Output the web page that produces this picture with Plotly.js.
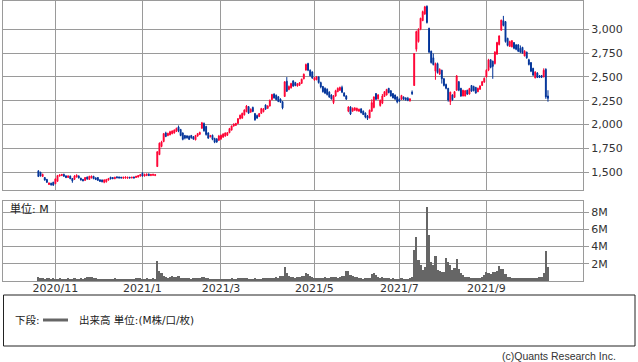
<!DOCTYPE html>
<html>
<head>
<meta charset="utf-8">
<script src="https://cdn.plot.ly/plotly-3.0.1.min.js"></script>
<style>html,body{margin:0;padding:0;background:#fff;}#chart{width:638px;height:362px;}</style>
</head>
<body>
<div id="chart"></div>
<script>
// ---- data (daily candles, first trading day 2020-10-21) ----
const startDate = '2020-10-21';
const holidays = ['2020-11-03','2020-11-23','2020-12-31','2021-01-01','2021-01-11','2021-02-11','2021-02-23',
  '2021-04-29','2021-05-03','2021-05-04','2021-05-05','2021-07-22','2021-07-23','2021-08-09','2021-09-20','2021-09-23'];

const open = [1515,1500,1455,1445,1425,1372,1385,1395,
1380,1405,1460,1465,1478,1462,1445,1460,1435,1425,1450,1462,1438,1425,1415,1450,1425,1440,1458,1440,1445,1420,1418,1395,1400,1418,1448,1445,1432,1452,1450,1448,1438,1440,1438,1448,1440,1450,1445,1450,1460,1490,1460,1465,1480,1465,1468,1465,
1560,1685,1770,1822,1912,1885,1892,1905,1912,1928,1975,1948,1912,1885,1880,1878,1885,1872,1840,1880,1898,1962,2012,1980,1912,1872,1888,1855,1850,1835,1850,1868,1880,1888,1915,1942,1985,1992,2012,2062,2068,2102,2135,2188,2130,2180,2115,2095,2085,2118,2135,2205,2170,2195,2262,2320,2308,2292,2268,2240,
2295,2455,2368,2385,2458,2440,2405,2412,2432,2480,2572,2640,2570,2552,2468,2470,2500,2440,2400,2380,2370,2340,2310,2230,2300,2345,2360,2390,2330,2300,
2140,2185,2140,2150,2145,2140,2165,2140,2120,2090,2070,2140,2180,2325,2270,2200,2225,2295,2310,2380,2355,2325,2310,2290,2265,2265,2290,2280,2275,2250,2340,
2410,2790,2870,3000,3090,3160,3240,3010,2770,2700,2560,2640,2530,2570,2480,2420,2380,2240,2310,2285,2360,2450,2380,2300,2300,2360,2320,2410,2400,2390,2345,2370,2410,2445,2500,
2570,2680,2665,2640,2740,2840,2990,3090,3080,2905,2820,2815,2860,2835,2835,2800,2810,2720,2760,2680,2650,2590,2490,2540,2510,2515,2500,2580,2300];

const high = [1520,1505,1485,1450,1430,1392,1390,1400,
1435,1472,1478,1482,1485,1468,1468,1465,1440,1470,1478,1466,1442,1430,1450,1455,1462,1465,1462,1448,1450,1428,1425,1425,1430,1440,1452,1450,1452,1456,1455,1452,1452,1455,1452,1452,1452,1455,1462,1470,1482,1500,1485,1488,1488,1482,1484,1480,
1720,1812,1830,1912,1925,1915,1935,1940,1950,1968,1990,1955,1918,1892,1890,1885,1892,1880,1892,1912,1925,2028,2022,1988,1920,1892,1895,1862,1858,1892,1895,1910,1918,1922,1965,1990,2012,2018,2068,2105,2125,2160,2205,2195,2170,2188,2122,2105,2122,2175,2172,2212,2202,2262,2322,2328,2315,2298,2275,2245,
2455,2498,2410,2438,2465,2448,2435,2445,2482,2535,2640,2648,2578,2558,2498,2510,2505,2450,2405,2390,2380,2350,2318,2310,2365,2390,2398,2408,2340,2308,
2192,2192,2180,2182,2178,2168,2170,2148,2128,2100,2158,2265,2295,2330,2320,2262,2321,2350,2375,2385,2360,2330,2315,2295,2275,2312,2295,2285,2290,2275,2358,
2750,2985,3010,3120,3195,3245,3250,3015,2775,2745,2650,2650,2590,2575,2490,2430,2385,2345,2318,2350,2520,2455,2385,2365,2362,2365,2385,2415,2408,2395,2388,2412,2458,2495,2580,
2690,2685,2670,2770,2868,2935,3100,3140,3085,2910,2880,2885,2865,2845,2845,2830,2815,2780,2765,2690,2655,2595,2560,2550,2520,2520,2590,2590,2360];

const low = [1450,1455,1450,1412,1388,1366,1360,1358,
1375,1400,1455,1460,1452,1438,1440,1428,1390,1420,1445,1435,1412,1405,1410,1422,1420,1436,1428,1418,1410,1398,1394,1385,1392,1412,1425,1428,1428,1438,1436,1436,1430,1432,1432,1436,1436,1435,1440,1445,1455,1455,1455,1460,1460,1460,1462,1460,
1555,1680,1762,1815,1868,1878,1888,1898,1905,1922,1920,1878,1835,1845,1852,1838,1852,1840,1835,1872,1890,1955,1925,1885,1850,1865,1836,1805,1808,1830,1840,1862,1872,1880,1910,1938,1978,1985,2008,2055,2060,2095,2130,2112,2125,2130,2040,2060,2078,2112,2128,2155,2165,2190,2258,2272,2252,2235,2228,2160,
2290,2342,2360,2378,2395,2402,2398,2405,2428,2475,2565,2560,2505,2480,2460,2465,2430,2380,2335,2320,2305,2280,2262,2215,2292,2340,2352,2330,2292,2258,
2130,2100,2135,2145,2138,2135,2118,2100,2066,2048,2066,2135,2170,2258,2262,2188,2215,2290,2305,2328,2293,2275,2258,2223,2240,2258,2258,2250,2245,2240,2310,
2405,2765,2860,2990,3085,3150,3060,2750,2640,2620,2470,2535,2520,2430,2400,2370,2240,2205,2250,2280,2355,2350,2290,2295,2295,2310,2315,2345,2348,2325,2340,2365,2405,2440,2495,
2560,2590,2480,2630,2730,2830,2985,3030,2860,2820,2815,2810,2790,2780,2760,2750,2745,2715,2690,2620,2550,2510,2485,2488,2488,2488,2495,2270,2240];

const close = [1455,1462,1478,1418,1395,1388,1368,1365,
1430,1465,1472,1478,1458,1445,1462,1432,1410,1460,1470,1440,1420,1410,1445,1428,1458,1460,1432,1425,1415,1405,1400,1420,1425,1435,1430,1432,1448,1442,1440,1440,1448,1450,1448,1440,1448,1440,1458,1465,1475,1460,1478,1480,1465,1478,1478,1475,
1715,1805,1818,1905,1875,1908,1925,1932,1942,1960,1935,1885,1845,1858,1862,1845,1862,1848,1885,1905,1918,2018,1935,1895,1858,1885,1845,1815,1818,1880,1888,1900,1912,1915,1958,1985,2005,2012,2062,2098,2118,2152,2195,2120,2160,2138,2050,2068,2115,2168,2165,2162,2195,2255,2315,2280,2262,2242,2235,2175,
2448,2350,2400,2430,2405,2410,2428,2438,2475,2528,2630,2570,2512,2488,2490,2500,2440,2395,2345,2330,2315,2290,2270,2300,2355,2380,2390,2340,2300,2268,
2185,2110,2170,2175,2170,2160,2125,2105,2080,2065,2150,2230,2290,2265,2310,2255,2300,2345,2368,2335,2300,2280,2268,2238,2245,2305,2265,2262,2255,2270,2325,
2745,2975,2998,3115,3185,3235,3070,2760,2650,2630,2640,2545,2580,2480,2410,2380,2258,2340,2260,2345,2510,2360,2300,2360,2355,2320,2378,2350,2355,2330,2380,2405,2450,2485,2570,
2680,2600,2610,2760,2860,2930,3095,3040,2870,2830,2870,2880,2800,2790,2770,2760,2750,2770,2700,2630,2560,2520,2550,2495,2495,2495,2570,2290,2275];

// volume, millions of shares
const volume = [0.45,0.35,0.3,0.28,0.3,0.32,0.25,0.3,
0.28,0.25,0.3,0.22,0.25,0.28,0.3,0.25,0.22,0.3,0.28,0.25,0.3,0.28,0.35,0.45,0.5,0.45,0.38,0.3,0.25,0.22,
0.2,0.25,0.28,0.22,0.2,0.25,0.3,0.22,0.2,0.18,0.22,0.25,0.2,0.22,0.28,0.25,0.3,0.32,0.35,0.28,
0.25,0.3,0.25,0.22,0.3,0.28,2.28,1.15,0.95,0.6,0.45,0.4,0.42,0.55,0.45,0.5,0.55,0.4,0.35,0.38,
0.3,0.35,0.28,0.3,0.35,0.4,0.35,0.5,0.45,0.35,0.3,0.25,0.28,0.25,0.2,0.22,0.2,0.25,0.22,0.25,
0.28,0.3,0.25,0.28,0.35,0.3,0.32,0.35,0.3,0.28,0.25,0.22,0.3,0.25,0.22,0.28,0.3,0.32,0.35,0.38,
0.4,0.35,0.42,0.35,0.55,0.6,1.65,0.95,0.6,0.45,0.5,0.4,0.42,0.45,0.55,0.6,0.9,0.85,0.6,0.5,
0.4,0.35,0.3,0.35,0.4,0.45,0.38,0.4,0.45,0.5,0.45,0.4,0.5,0.55,0.6,1.2,1.15,0.7,0.6,0.5,
0.45,0.4,0.3,0.28,0.3,0.35,0.4,0.8,0.9,0.65,0.5,0.4,0.45,0.35,0.3,0.3,0.28,0.3,0.25,0.22,
0.25,0.3,0.25,0.22,0.28,0.35,0.5,3.6,5.1,2.4,1.8,1.25,1.6,8.6,5.3,2.2,1.8,2.85,1.3,1.2,
1.0,1.1,2.7,2.2,1.8,1.3,1.55,2.5,1.4,0.9,0.65,0.5,0.45,0.45,0.4,0.35,0.35,0.3,0.32,0.45,
0.65,1.1,0.95,0.85,1.0,1.05,1.2,1.7,1.4,1.45,0.85,0.5,0.45,0.4,0.4,0.35,0.35,0.3,0.3,0.35,
0.3,0.32,0.35,0.3,0.35,0.4,0.45,0.45,0.9,3.45,1.6];

const tickMonths = ['2020-11','2021-01','2021-03','2021-05','2021-07','2021-09'];
const tickLabels = ['2020/11','2021/1','2021/3','2021/5','2021/7','2021/9'];
const priceTicks = [1500,1750,2000,2250,2500,2750,3000];
const volTicks = [2,4,6,8];
const volTickLabels = ['2M','4M','6M','8M'];

// ---- trading-day calendar for the category axis ----
function tradingDays(start, n, hol) {
  const out = [];
  const d = new Date(start + 'T00:00:00Z');
  while (out.length < n) {
    const s = d.toISOString().slice(0, 10);
    const wd = d.getUTCDay();
    if (wd !== 0 && wd !== 6 && hol.indexOf(s) < 0) out.push(s);
    d.setUTCDate(d.getUTCDate() + 1);
  }
  return out;
}
const dates = tradingDays(startDate, close.length, holidays);
const tickvals = tickMonths.map(m => dates.find(s => s.startsWith(m)));

const RED = '#ff0033', BLUE = '#003399', GRID = '#9a9a9a';
const FONT = 'DejaVu Sans, Noto Sans CJK JP, sans-serif';

const traces = [
  {
    type: 'candlestick', x: dates, open: open, high: high, low: low, close: close,
    xaxis: 'x', yaxis: 'y',
    increasing: {line: {color: RED, width: 1}, fillcolor: RED},
    decreasing: {line: {color: BLUE, width: 1}, fillcolor: BLUE},
    whiskerwidth: 0, hoverinfo: 'skip'
  },
  {
    type: 'bar', x: dates, y: volume, xaxis: 'x', yaxis: 'y2',
    marker: {color: '#666666', line: {width: 0}}, hoverinfo: 'skip'
  }
];

const px = v => (v - 3) / 580;      // pixel x -> paper
const py = v => (281 - v) / 280;    // pixel y -> paper

const layout = {
  width: 638, height: 362,
  margin: {l: 3, r: 55, t: 1, b: 81, pad: 0},
  paper_bgcolor: '#ffffff', plot_bgcolor: '#ffffff',
  showlegend: false,
  boxgap: 0.4, bargap: 0,
  font: {family: FONT, size: 11, color: '#333'},
  xaxis: {
    type: 'category', anchor: 'y2', range: [-16.67, 256.5],
    tickmode: 'array', tickvals: tickvals, ticktext: tickLabels, tickangle: 0,
    ticklabelstandoff: -3,
    showgrid: true, gridcolor: GRID, gridwidth: 1,
    showline: true, linecolor: GRID, linewidth: 1, mirror: 'all',
    ticks: '', tickfont: {family: FONT, size: 11, color: '#333'},
    rangeslider: {visible: false}, fixedrange: true
  },
  yaxis: {
    domain: [0.324, 1], range: [1311, 3296], side: 'right', anchor: 'x',
    tickmode: 'array', tickvals: priceTicks, tickformat: ',',
    ticks: 'outside', ticklen: 5, tickcolor: GRID,
    showgrid: true, gridcolor: GRID, gridwidth: 1, zeroline: false,
    showline: true, linecolor: GRID, mirror: true,
    tickfont: {family: FONT, size: 11, color: '#333'}, fixedrange: true
  },
  yaxis2: {
    domain: [0, 0.284], range: [0, 9.23], side: 'right', anchor: 'x',
    tickmode: 'array', tickvals: volTicks, ticktext: volTickLabels,
    ticks: 'outside', ticklen: 5, tickcolor: GRID,
    showgrid: true, gridcolor: GRID, gridwidth: 1, zeroline: false,
    showline: true, linecolor: GRID, mirror: true,
    tickfont: {family: FONT, size: 11, color: '#333'}, fixedrange: true
  },
  shapes: [
    {type: 'rect', xref: 'paper', yref: 'paper', x0: px(3.5), x1: px(635), y0: py(295), y1: py(346),
     line: {color: '#222', width: 1}, fillcolor: 'rgba(0,0,0,0)'},
    {type: 'line', xref: 'paper', yref: 'paper', x0: px(43), x1: px(68), y0: py(320), y1: py(320),
     line: {color: '#666', width: 3}}
  ],
  annotations: [
    {xref: 'paper', yref: 'paper', x: px(8), y: py(209), xanchor: 'left', yanchor: 'middle',
     text: '単位: M', showarrow: false, font: {family: FONT, size: 11, color: '#222'}},
    {xref: 'paper', yref: 'paper', x: px(13), y: py(320), xanchor: 'left', yanchor: 'middle',
     text: '下段:', showarrow: false, font: {family: FONT, size: 10.5, color: '#222'}},
    {xref: 'paper', yref: 'paper', x: px(77), y: py(320), xanchor: 'left', yanchor: 'middle',
     text: '出来高 単位:(M株/口/枚)', showarrow: false, font: {family: FONT, size: 10.5, color: '#222'}},
    {xref: 'paper', yref: 'paper', x: px(618), y: py(356), xanchor: 'right', yanchor: 'middle',
     text: '(c)Quants Research Inc.', showarrow: false,
     font: {family: 'Liberation Sans, Arial, sans-serif', size: 10.5, color: '#333'}}
  ]
};

Plotly.newPlot('chart', traces, layout, {displayModeBar: false, staticPlot: true});
</script>
</body>
</html>
